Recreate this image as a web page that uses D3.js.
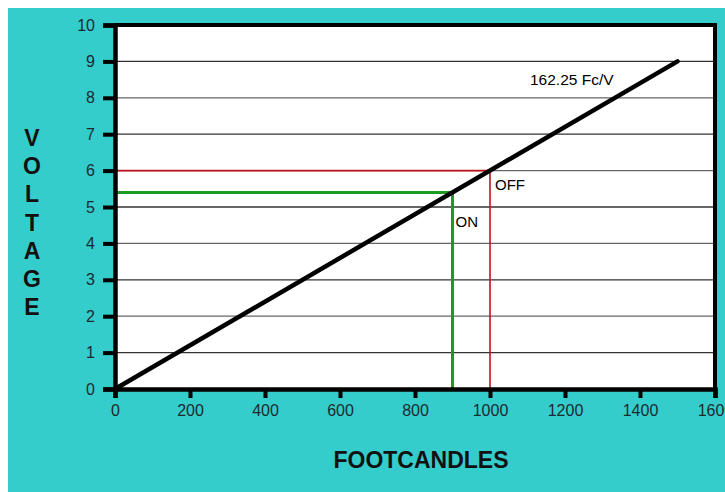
<!DOCTYPE html>
<html>
<head>
<meta charset="utf-8">
<script src="https://cdn.jsdelivr.net/npm/d3@7/dist/d3.min.js"></script>
<style>
  body { margin: 0; background: #fff; }
  svg { display: block; font-family: "Liberation Sans", Arial, sans-serif; }
</style>
</head>
<body>
<div id="chart"></div>
<script>
'use strict';

var xTicks = [0, 200, 400, 600, 800, 1000, 1200, 1400, 1600];
var yTicks = [0, 1, 2, 3, 4, 5, 6, 7, 8, 9, 10];
var linePoints = [[0, 0], [1500, 9]];
var offPoint = [1000, 6];
var onPoint = [900, 5.4];
var slopeLabel = '162.25 Fc/V';
var yTitle = 'VOLTAGE';
var xTitle = 'FOOTCANDLES';

var W = 725, H = 492;
var margin = {top: 25, right: 10, bottom: 103, left: 115};
var width = 715 - margin.left;
var height = H - margin.top - margin.bottom;

var svg = d3.select('#chart').append('svg')
	.attr('width', W)
	.attr('height', H);

// teal backdrop with thin white edge on the left and top
svg.append('rect')
	.attr('x', 8).attr('y', 8)
	.attr('width', W - 8).attr('height', H - 8)
	.attr('fill', '#35cccc');

var g = svg.append('g')
	.attr('transform', 'translate(' + margin.left + ',' + margin.top + ')');

var x = d3.scaleLinear().domain([0, 1600]).range([0, width]);
var y = d3.scaleLinear().domain([0, 10]).range([height, 0]);

g.append('rect')
	.attr('width', width).attr('height', height)
	.attr('fill', '#fff');

// horizontal grid
g.append('g').selectAll('line')
	.data(yTicks.slice(1, -1))
	.enter().append('line')
	.attr('x1', 0).attr('x2', width)
	.attr('y1', function(d){ return y(d); })
	.attr('y2', function(d){ return y(d); })
	.attr('stroke', function(d, i){ return i % 2 ? '#666' : '#333'; })
	.attr('stroke-width', 1.3);

// on / off guides
var red = '#c0141c', green = '#1e9a1e';
g.append('path')
	.attr('d', 'M' + x(0) + ',' + y(offPoint[1]) + 'H' + x(offPoint[0]) + 'V' + y(0))
	.attr('fill', 'none').attr('stroke', red).attr('stroke-width', 1.6);
g.append('path')
	.attr('d', 'M' + x(0) + ',' + y(onPoint[1]) + 'H' + x(onPoint[0]) + 'V' + y(0))
	.attr('fill', 'none').attr('stroke', green).attr('stroke-width', 3);

// response line
g.append('path')
	.datum(linePoints)
	.attr('d', d3.line().x(function(d){ return x(d[0]); }).y(function(d){ return y(d[1]); }))
	.attr('fill', 'none')
	.attr('stroke', '#000')
	.attr('stroke-width', 4.5)
	.attr('stroke-linecap', 'round');

// frame: heavy top and right border
g.append('path')
	.attr('d', 'M0,0H' + width + 'V' + height)
	.attr('fill', 'none').attr('stroke', '#000').attr('stroke-width', 4);

// axes
var xAxis = d3.axisBottom(x).tickValues(xTicks).tickFormat(d3.format('d')).tickSize(9).tickPadding(7);
var yAxis = d3.axisLeft(y).tickValues(yTicks).tickFormat(d3.format('d')).tickSize(12).tickPadding(8);

var gx = g.append('g').attr('transform', 'translate(0,' + height + ')').call(xAxis);
var gy = g.append('g').call(yAxis);

[gx, gy].forEach(function(ax){
	ax.attr('font-size', 16).attr('font-family', null);
	ax.select('.domain').attr('stroke', '#000').attr('stroke-width', 4.5);
	ax.selectAll('.tick line').attr('stroke', '#000').attr('stroke-width', 4);
	ax.selectAll('.tick text').attr('fill', '#1c2a2e');
});

// annotations
g.append('text')
	.attr('x', x(offPoint[0]) + 5).attr('y', y(offPoint[1]) + 19)
	.style('font-size', '15px').text('OFF');
g.append('text')
	.attr('x', x(onPoint[0]) + 3).attr('y', y(onPoint[1]) + 35)
	.style('font-size', '15px').text('ON');
g.append('text')
	.attr('x', 415).attr('y', 60)
	.style('font-size', '15.5px').text(slopeLabel);

// titles
svg.append('text')
	.attr('x', 421).attr('y', 468)
	.attr('text-anchor', 'middle')
	.style('font-size', '23px').style('font-weight', 'bold')
	.attr('fill', '#111')
	.text(xTitle);

svg.append('g').selectAll('text')
	.data(yTitle.split(''))
	.enter().append('text')
	.attr('x', 32)
	.attr('y', function(d, i){ return 146 + i * 28.2; })
	.attr('text-anchor', 'middle')
	.style('font-size', '23px').style('font-weight', 'bold')
	.attr('fill', '#111')
	.text(function(d){ return d; });
</script>
</body>
</html>
